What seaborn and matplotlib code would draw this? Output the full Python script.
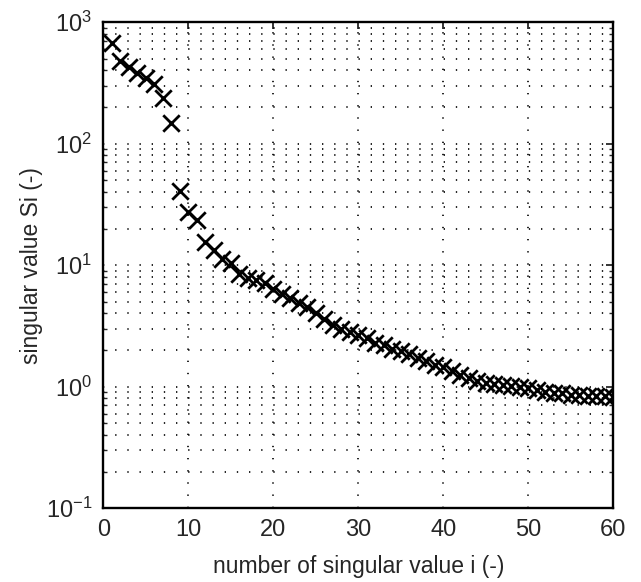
import numpy as np
import pandas as pd
import matplotlib
matplotlib.use("Agg")
import matplotlib.pyplot as plt
import seaborn as sns
from matplotlib.ticker import LogLocator, MultipleLocator, NullFormatter

# singular values
index = list(range(1, 61))
singular_values = [
    670, 480, 425, 378, 345, 312, 238, 147, 41, 27.5,
    23.5, 15.5, 13.2, 11.2, 10.5, 8.4, 7.9, 7.5, 7.1, 6.3,
    5.8, 5.4, 4.9, 4.5, 4.0, 3.6, 3.2, 3.0, 2.8, 2.65,
    2.5, 2.3, 2.2, 2.05, 1.95, 1.85, 1.72, 1.62, 1.52, 1.45,
    1.35, 1.25, 1.18, 1.12, 1.08, 1.06, 1.04, 1.01, 0.99, 0.97,
    0.94, 0.91, 0.89, 0.88, 0.86, 0.85, 0.84, 0.83, 0.83, 0.82,
]

df = pd.DataFrame({'i': index, 'S': singular_values})

sns.set_style("white")
plt.rcParams['font.family'] = ['Liberation Sans', 'DejaVu Sans']
plt.rcParams['mathtext.fontset'] = 'custom'
plt.rcParams['mathtext.rm'] = 'Liberation Sans'

fig = plt.figure(figsize=(6.41, 5.82), dpi=100)
ax = fig.add_axes([0.161, 0.127, 0.796, 0.835])

sns.scatterplot(data=df, x='i', y='S', marker='x', color='black',
                s=140, linewidth=2.0, ax=ax, zorder=3)

ax.set_yscale('log')
ax.set_xlim(0, 60)
ax.set_ylim(0.1, 1000)
ax.xaxis.set_major_locator(MultipleLocator(10))
ax.yaxis.set_major_locator(LogLocator(base=10, numticks=10))
ax.yaxis.set_minor_locator(LogLocator(base=10, subs=np.arange(2, 10), numticks=10))
ax.yaxis.set_minor_formatter(NullFormatter())

dots = (0, (0.8, 6.5))
ax.grid(True, which='major', axis='both', color='black', linestyle=dots, linewidth=1.2)
ax.grid(True, which='minor', axis='y', color='black', linestyle=dots, linewidth=1.2)

for sp in ax.spines.values():
    sp.set_linewidth(1.7)
    sp.set_color('black')

ax.tick_params(which='major', direction='in', length=5, width=1.3,
               top=True, right=True, labelsize=17, pad=8)
ax.tick_params(which='minor', direction='in', length=3, width=1.0,
               left=True, right=True)

ax.set_xlabel('number of singular value i (-)', fontsize=16.5, labelpad=10)
ax.set_ylabel('singular value Si (-)', fontsize=16.5, labelpad=2)

fig.savefig('out.png', dpi=100)
